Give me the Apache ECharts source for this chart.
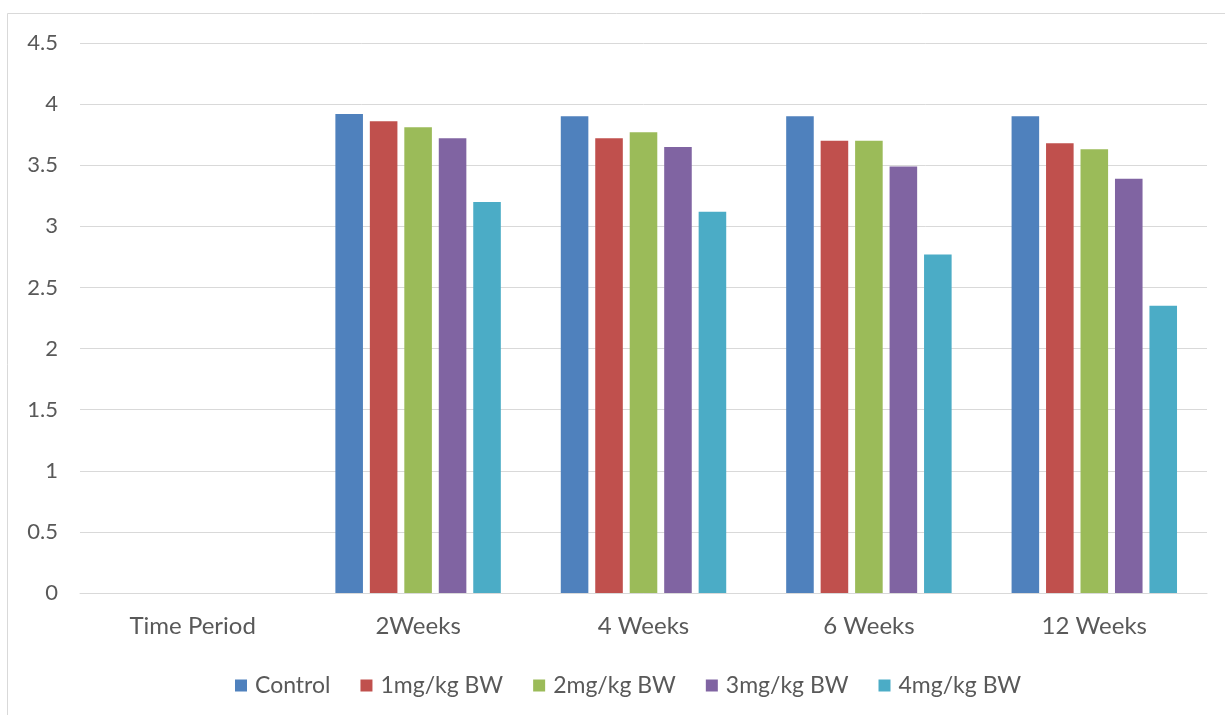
<!DOCTYPE html>
<html>
<head>
<meta charset="utf-8">
<script src="https://cdn.jsdelivr.net/npm/echarts@6/dist/echarts.min.js"></script>
<style>
  html, body { margin: 0; padding: 0; background: #ffffff; }
  #chart { width: 1225px; height: 715px; }
</style>
</head>
<body>
<div id="chart"></div>
<script>
// Time periods on the x axis
const categories = ['Time Period', '2Weeks', '4 Weeks', '6 Weeks', '12 Weeks'];

// Dose groups
const seriesNames = ['Control', '1mg/kg BW', '2mg/kg BW', '3mg/kg BW', '4mg/kg BW'];

// Values per group (first slot is the header column, left empty)
const control = [null, 3.92, 3.90, 3.90, 3.90];
const dose1 = [null, 3.86, 3.72, 3.70, 3.68];
const dose2 = [null, 3.81, 3.77, 3.70, 3.63];
const dose3 = [null, 3.72, 3.65, 3.49, 3.39];
const dose4 = [null, 3.20, 3.12, 2.77, 2.35];

const yTicks = [0, 0.5, 1, 1.5, 2, 2.5, 3, 3.5, 4, 4.5];

const values = [control, dose1, dose2, dose3, dose4];
const colors = ['#4F81BD', '#C0504D', '#9BBB59', '#8064A2', '#4BACC6'];

const font = 'Lato, "Open Sans", sans-serif';
const textColor = '#595959';

const chart = echarts.init(document.getElementById('chart'), null, { renderer: 'canvas' });

chart.setOption({
  animation: false,
  backgroundColor: '#ffffff',
  graphic: [{
    type: 'rect',
    shape: { x: 7.5, y: 13.5, width: 1240, height: 720 },
    style: { fill: 'none', stroke: '#d9d9d9', lineWidth: 1 },
    silent: true,
    z: -10
  }],
  grid: { left: 80, right: 18, top: 43, bottom: 122, containLabel: false },
  legend: {
    data: seriesNames,
    top: 669,
    left: 230,
    icon: 'rect',
    itemWidth: 12,
    itemHeight: 12,
    itemGap: 30,
    textStyle: { color: textColor, fontFamily: font, fontSize: 23, padding: [0, 0, 0, 3] }
  },
  xAxis: {
    type: 'category',
    data: categories,
    axisLine: { show: true, lineStyle: { color: '#d9d9d9', width: 1 } },
    axisTick: { show: false },
    axisLabel: { color: textColor, fontFamily: font, fontSize: 24, margin: 21 }
  },
  yAxis: {
    type: 'value',
    min: yTicks[0],
    max: yTicks[yTicks.length - 1],
    interval: 0.5,
    axisLine: { show: false },
    axisTick: { show: false },
    splitLine: { lineStyle: { color: '#d9d9d9', width: 1 } },
    axisLabel: { color: textColor, fontFamily: font, fontSize: 22, margin: 22 }
  },
  series: seriesNames.map((name, i) => ({
    name: name,
    type: 'bar',
    data: values[i],
    barGap: '25%',
    barCategoryGap: '26.6%',
    itemStyle: { color: colors[i] }
  }))
});
</script>
</body>
</html>
